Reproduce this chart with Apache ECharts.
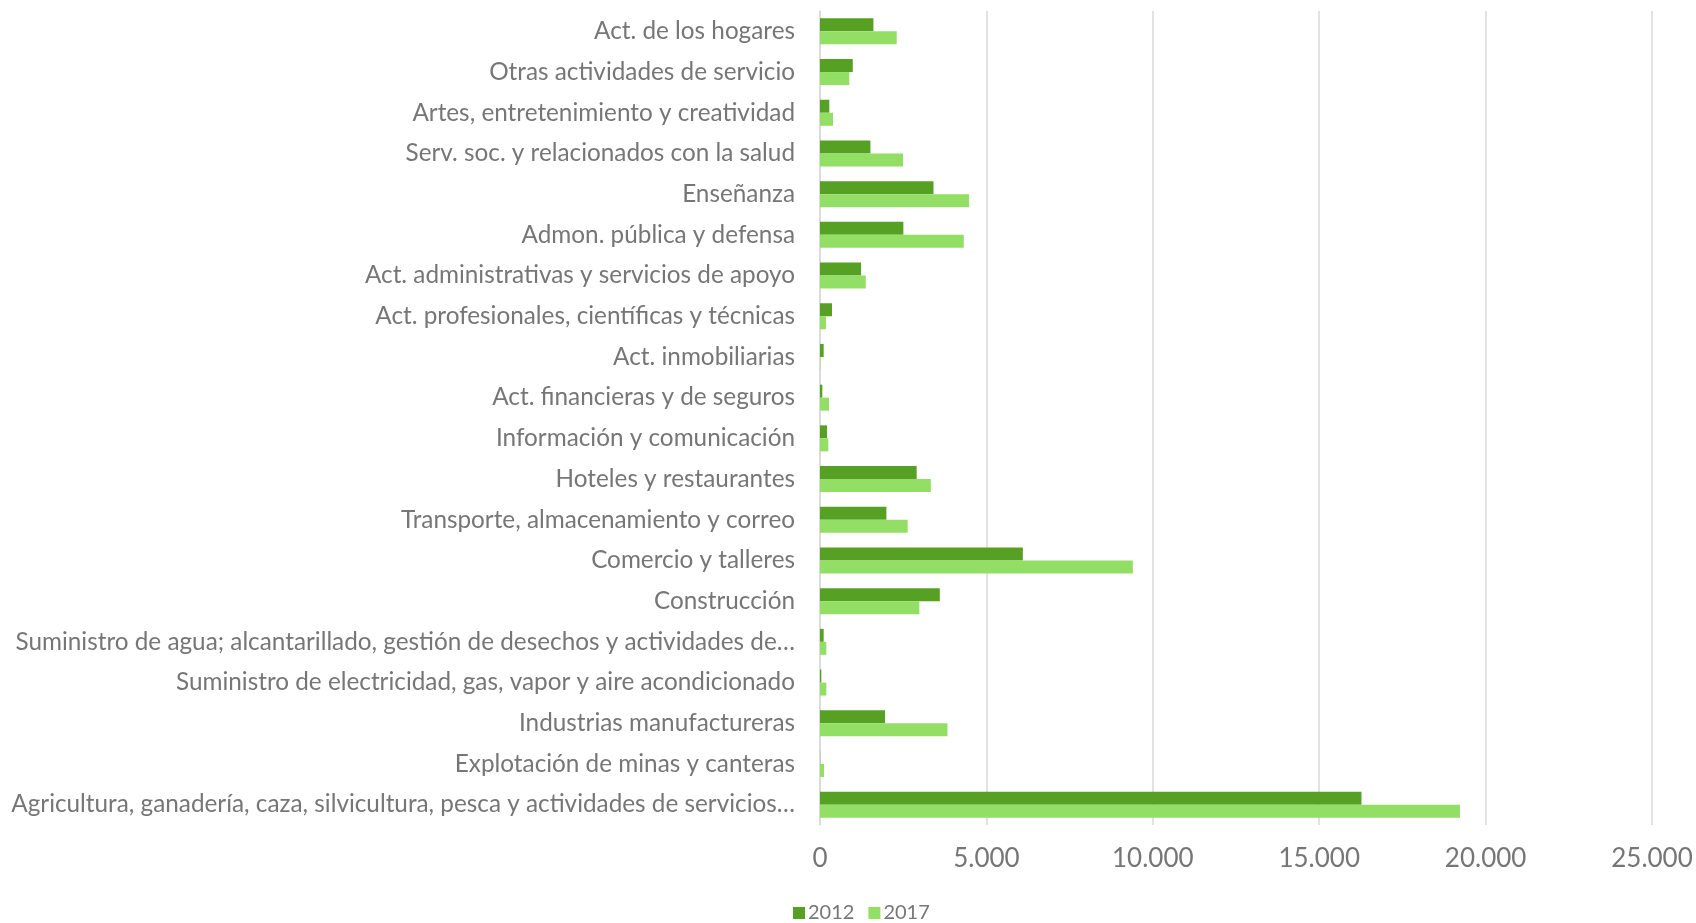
<!DOCTYPE html>
<html>
<head>
<meta charset="utf-8">
<script src="https://cdn.jsdelivr.net/npm/echarts@6/dist/echarts.min.js"></script>
<style>html,body{margin:0;padding:0;background:#fff}#c{width:1696px;height:923px}</style>
</head>
<body>
<div id="c"></div>
<script>
// Categories listed bottom to top
var categories = [
  "Agricultura, ganadería, caza, silvicultura, pesca y actividades de servicios…",
  "Explotación de minas y canteras",
  "Industrias manufactureras",
  "Suministro de electricidad, gas, vapor y aire acondicionado",
  "Suministro de agua; alcantarillado, gestión de desechos y actividades de…",
  "Construcción",
  "Comercio y talleres",
  "Transporte, almacenamiento y correo",
  "Hoteles y restaurantes",
  "Información y comunicación",
  "Act. financieras y de seguros",
  "Act. inmobiliarias",
  "Act. profesionales, científicas y técnicas",
  "Act. administrativas y servicios de apoyo",
  "Admon. pública y defensa",
  "Enseñanza",
  "Serv. soc. y relacionados con la salud",
  "Artes, entretenimiento y creatividad",
  "Otras actividades de servicio",
  "Act. de los hogares"
];
var values2012 = [16270, 5, 1955, 40, 110, 3600, 6095, 1995, 2905, 210, 70, 110, 360, 1235, 2505, 3410, 1515, 280, 985, 1605];
var values2017 = [19230, 120, 3830, 190, 190, 2985, 9400, 2635, 3330, 250, 270, 10, 180, 1375, 4320, 4480, 2495, 390, 880, 2305];
var seriesNames = ["2012", "2017"];
var xTicks = {min: 0, max: 25000, interval: 5000};

var textColor = "#767676";
var font = "Lato";
var chart = echarts.init(document.getElementById('c'), null, {renderer: 'canvas'});
function fmt(v){ return String(v).replace(/\B(?=(\d{3})+(?!\d))/g, "."); }
chart.setOption({
  animation: false,
  textStyle: {fontFamily: font},
  grid: {left: 820, right: 44, top: 11, bottom: 98, containLabel: false},
  legend: {
    data: seriesNames,
    left: 788, top: 898,
    itemWidth: 12, itemHeight: 12, itemGap: 14,
    icon: 'rect',
    textStyle: {color: textColor, fontSize: 20, fontFamily: font, padding: [0,0,0,-2]}
  },
  xAxis: {
    type: 'value',
    min: xTicks.min, max: xTicks.max, interval: xTicks.interval,
    axisLine: {show: false},
    axisTick: {show: false},
    splitLine: {show: true, lineStyle: {color: '#D9D9D9', width: 1.5}},
    axisLabel: {color: textColor, fontSize: 26, margin: 21, formatter: fmt, fontFamily: font}
  },
  yAxis: {
    type: 'category',
    data: categories,
    axisLine: {show: true, lineStyle: {color: '#D9D9D9', width: 1.5}},
    axisTick: {show: false},
    axisLabel: {color: textColor, fontSize: 24.3, margin: 25, fontFamily: font}
  },
  series: [
    {name: seriesNames[0], type: 'bar', data: values2012, barWidth: 13, barGap: '0%',
     itemStyle: {color: '#56A023'}},
    {name: seriesNames[1], type: 'bar', data: values2017, barWidth: 13, barGap: '0%',
     itemStyle: {color: '#93DF66'}}
  ]
});
</script>
</body>
</html>
